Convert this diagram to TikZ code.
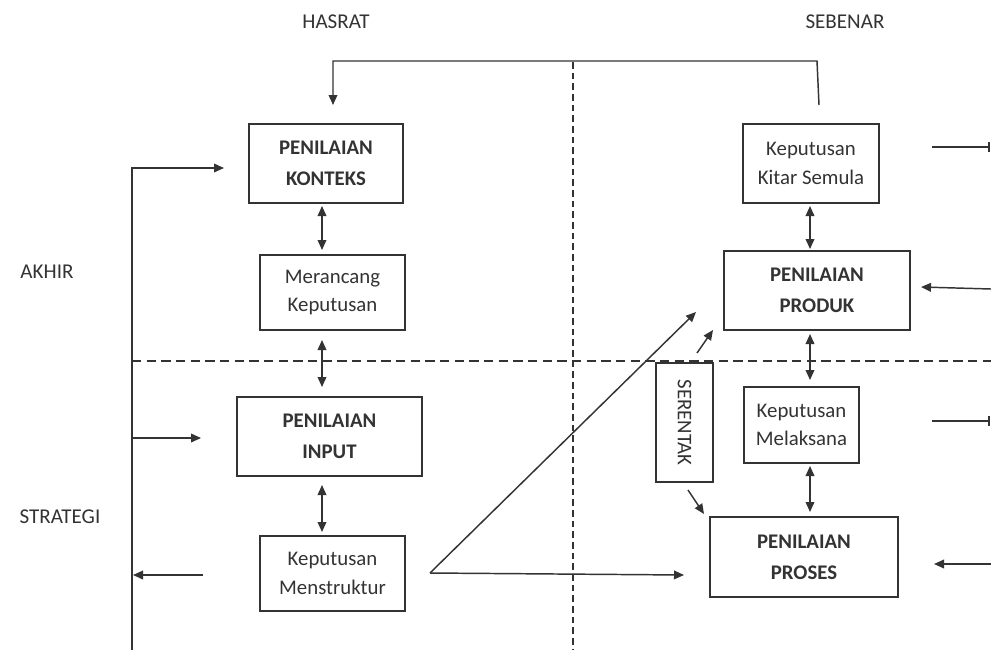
\documentclass[tikz,border=0pt]{standalone}
\usepackage{fontspec}
\setmainfont{Carlito}
\usetikzlibrary{arrows.meta}
\definecolor{ln}{HTML}{333333}
\begin{document}
\begin{tikzpicture}[x=0.75pt,y=-0.75pt,
  every node/.style={font=\fontsize{15.6}{21.5}\selectfont, text=ln},
  box/.style={draw=ln, line width=1pt, align=center, inner sep=0pt},
  bbox/.style={box, font=\fontsize{15.6}{23}\selectfont\bfseries},
  conn/.style={draw=ln, line width=1.1pt, -{Triangle[length=7.5pt,width=6.5pt]}},
  dbl/.style={draw=ln, line width=1.1pt, {Triangle[length=7.5pt,width=6.5pt]}-{Triangle[length=7.5pt,width=6.5pt]}},
  barend/.style={draw=ln, line width=1.1pt, -{Bar[width=7pt,line width=1.3pt]}},
  hdr/.style={font=\fontsize{15.8}{18}\selectfont}]
\useasboundingbox (0,0) rectangle (991,650);
% labels
\node[hdr] (hasrat) at (336,22) {HASRAT};
\node[hdr] (sebenar) at (845,22) {SEBENAR};
\node[hdr] (akhir) at (47,272) {AKHIR};
\node[hdr] (strategi) at (60,517) {STRATEGI};
% dashed dividers
\draw[ln, line width=0.8pt, dash pattern=on 5pt off 3pt] (573,62) -- (573,650);
\draw[ln, line width=0.8pt, dash pattern=on 7pt off 4pt] (132,361) -- (991,361);
% boxes
\node[bbox, minimum width=154*0.75pt, minimum height=79*0.75pt] (konteks) at (326,163.5) {PENILAIAN\\KONTEKS};
\node[box, minimum width=145*0.75pt, minimum height=75*0.75pt] (merancang) at (332.5,292.5) {Merancang\\Keputusan};
\node[bbox, minimum width=185*0.75pt, minimum height=79*0.75pt] (input) at (329.5,436.5) {PENILAIAN\\INPUT};
\node[box, minimum width=145*0.75pt, minimum height=75*0.75pt] (menstruktur) at (332.5,573.5) {Keputusan\\Menstruktur};
\node[box, minimum width=136*0.75pt, minimum height=79*0.75pt] (kitar) at (811,163.5) {Keputusan\\Kitar Semula};
\node[bbox, minimum width=186*0.75pt, minimum height=79*0.75pt] (produk) at (817,290.5) {PENILAIAN\\PRODUK};
\node[box, minimum width=115*0.75pt, minimum height=76*0.75pt] (melaksana) at (801.5,425) {Keputusan\\Melaksana};
\node[bbox, minimum width=188*0.75pt, minimum height=80*0.75pt] (proses) at (804,557) {PENILAIAN\\PROSES};
\node[box, minimum width=119*0.75pt, minimum height=57*0.75pt, rotate=-90] (serentak) at (684.5,422.5) {SERENTAK};
% vertical double arrows
\coordinate (a1) at (322,206); \coordinate (a2) at (322,250);
\draw[dbl] (a1) -- (a2);
\coordinate (b1) at (322,340); \coordinate (b2) at (322,387);
\draw[dbl] (b1) -- (b2);
\coordinate (c1) at (322,485); \coordinate (c2) at (322,532);
\draw[dbl] (c1) -- (c2);
\coordinate (d1) at (810,206); \coordinate (d2) at (810,249);
\draw[dbl] (d1) -- (d2);
\coordinate (e1) at (810,334); \coordinate (e2) at (810,380);
\draw[dbl] (e1) -- (e2);
\coordinate (f1) at (810,466); \coordinate (f2) at (810,512);
\draw[dbl] (f1) -- (f2);
% top feedback
\coordinate (fb0) at (819,105); \coordinate (fb1) at (817,61);
\coordinate (fb2) at (333,61); \coordinate (fb3) at (333,105);
\draw[conn] (fb0) -- (fb1) -- (fb2) -- (fb3);
% left loop
\coordinate (l0) at (132,650); \coordinate (l1) at (132,168); \coordinate (l2) at (224,168);
\draw[conn] (l0) -- (l1) -- (l2);
\coordinate (m0) at (132,438); \coordinate (m1) at (201,438);
\draw[conn] (m0) -- (m1);
\coordinate (n0) at (203,575); \coordinate (n1) at (133,575);
\draw[conn] (n0) -- (n1);
% from Menstruktur
\coordinate (s0) at (430,573);
\coordinate (s1) at (696,312);
\coordinate (s2) at (684,575);
\draw[conn] (s0) -- (s1);
\draw[conn] (s0) -- (s2);
% serentak arrows
\coordinate (t0) at (697,353); \coordinate (t1) at (713,330);
\draw[conn] (t0) -- (t1);
\coordinate (u0) at (688,490); \coordinate (u1) at (704,514);
\draw[conn] (u0) -- (u1);
% right side
\coordinate (r0) at (932,147); \coordinate (r1) at (990,147);
\draw[barend] (r0) -- (r1);
\coordinate (r2) at (991,289); \coordinate (r3) at (921,287);
\draw[conn] (r2) -- (r3);
\coordinate (r4) at (932,421); \coordinate (r5) at (990,421);
\draw[barend] (r4) -- (r5);
\coordinate (r6) at (991,564); \coordinate (r7) at (934,564);
\draw[conn] (r6) -- (r7);
\end{tikzpicture}
\end{document}
